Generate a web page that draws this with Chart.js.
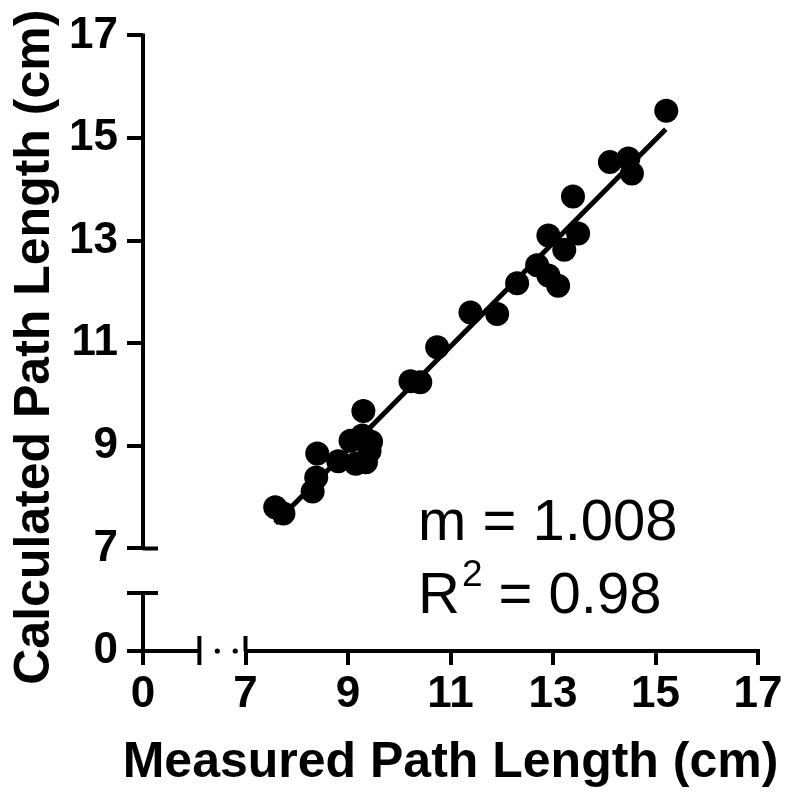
<!DOCTYPE html>
<html>
<head>
<meta charset="utf-8">
<script src="https://cdn.jsdelivr.net/npm/chart.js@4.4.0/dist/chart.umd.min.js"></script>
<style>
  html, body { margin: 0; padding: 0; background: #fff; }
</style>
</head>
<body>
<canvas id="myChart" width="786" height="797"></canvas>
<script>
// values (cm)
const measured = [7.58, 7.74, 8.31, 8.38, 8.40, 8.81, 9.05, 9.15, 9.30, 9.28, 9.35, 9.42, 9.45,
                  10.22, 10.41, 10.74, 11.39, 11.91, 12.30, 12.69, 12.91, 12.91, 13.10, 13.22,
                  13.49, 13.39, 14.11, 14.47, 14.54, 15.21];
const calculated = [7.80, 7.68, 8.11, 8.38, 8.85, 8.70, 9.10, 8.65, 9.68, 9.20, 8.68, 8.90, 9.08,
                    10.26, 10.24, 10.92, 11.60, 11.57, 12.17, 12.52, 13.10, 12.32, 12.12, 12.82,
                    13.14, 13.86, 14.53, 14.60, 14.31, 15.53];
const fitX = [7.58, 15.2];
const fitY = [7.49, 15.17];
const tickValues = [0, 7, 9, 11, 13, 15, 17];
const xTitle = 'Measured Path Length (cm)';
const yTitle = 'Calculated Path Length (cm)';
const slopeText = 'm = 1.008';
const r2Text = '0.98';

// axis is broken between 0 and 7: 7 sits 2 units from 0
function toAxis(v) { return v >= 7 ? v - 5 : v * 2 / 7; }
function fromAxis(d) { return d >= 2 ? d + 5 : d * 7 / 2; }

const family = '"Liberation Sans", Arial, sans-serif';
const tickFont = { family: family, size: 44, weight: 'bold' };

function setTicks(scale) {
  scale.ticks = tickValues.map(v => ({ value: toAxis(v) }));
}

const brokenAxes = {
  id: 'brokenAxes',
  afterDraw(chart) {
    const ctx = chart.ctx;
    const xs = chart.scales.x, ys = chart.scales.y;
    const ax = xs.getPixelForValue(0);
    const ay = ys.getPixelForValue(0);
    ctx.save();
    ctx.strokeStyle = '#000';
    ctx.fillStyle = '#000';
    ctx.lineWidth = 4;
    ctx.lineCap = 'butt';
    ctx.beginPath();
    // y axis, low piece and high piece
    const yLowEnd = ys.getPixelForValue(1.13);
    ctx.moveTo(ax, ay + 2); ctx.lineTo(ax, yLowEnd);
    ctx.moveTo(ax - 16, yLowEnd); ctx.lineTo(ax + 15, yLowEnd);
    const yHigh = ys.getPixelForValue(2);
    ctx.moveTo(ax, yHigh); ctx.lineTo(ax, ys.getPixelForValue(12) - 2);
    ctx.moveTo(ax, yHigh); ctx.lineTo(ax + 15, yHigh);
    // x axis, low piece and high piece
    const xLowEnd = xs.getPixelForValue(1.1);
    ctx.moveTo(ax - 2, ay); ctx.lineTo(xLowEnd, ay);
    ctx.moveTo(xLowEnd, ay - 15); ctx.lineTo(xLowEnd, ay + 14);
    const xHigh = xs.getPixelForValue(2);
    ctx.moveTo(xHigh, ay); ctx.lineTo(xs.getPixelForValue(12) + 2, ay);
    ctx.moveTo(xHigh, ay - 15); ctx.lineTo(xHigh, ay);
    ctx.stroke();
    // dots in the x break
    [1.45, 1.8].forEach(d => {
      ctx.beginPath();
      ctx.arc(xs.getPixelForValue(d), ay, 2.6, 0, Math.PI * 2);
      ctx.fill();
    });

    // axis titles (drawn here so they are not squeezed to the scale width)
    ctx.font = 'bold 50px ' + family;
    ctx.textAlign = 'center';
    ctx.textBaseline = 'alphabetic';
    ctx.fillText(xTitle, (xs.left + xs.right) / 2, 777);
    ctx.save();
    ctx.translate(49, (ys.top + ys.bottom) / 2 + 4);
    ctx.rotate(-Math.PI / 2);
    ctx.fillText(yTitle, 0, 0);
    ctx.restore();

    // fit statistics
    ctx.textAlign = 'left';
    const big = '58px ' + family;
    ctx.font = big;
    ctx.fillText(slopeText, 418, 540);
    let x = 418;
    ctx.fillText('R', x, 613);
    x += ctx.measureText('R').width + 2;
    ctx.font = '37px ' + family;
    ctx.fillText('2', x, 586);
    x += ctx.measureText('2').width;
    ctx.font = big;
    ctx.fillText(' = ' + r2Text, x, 613);
    ctx.restore();
  }
};

const ctx = document.getElementById('myChart');
const chart = new Chart(ctx, {
  data: {
    datasets: [{
      type: 'scatter',
      data: measured.map((m, i) => ({ x: toAxis(m), y: toAxis(calculated[i]) })),
      backgroundColor: '#000',
      borderWidth: 0,
      pointRadius: 12,
      pointHoverRadius: 12,
      order: 0
    }, {
      type: 'line',
      data: fitX.map((m, i) => ({ x: toAxis(m), y: toAxis(fitY[i]) })),
      borderColor: '#000',
      borderWidth: 5,
      pointRadius: 0,
      fill: false,
      order: 1
    }]
  },
  options: {
    responsive: false,
    animation: false,
    layout: { padding: { top: 34, right: 28, left: 0, bottom: 0 } },
    plugins: { legend: { display: false }, tooltip: { enabled: false } },
    scales: {
      x: {
        type: 'linear',
        position: 'bottom',
        min: 0, max: 12,
        afterBuildTicks: setTicks,
        afterFit(scale) { scale.height = 146; },
        border: { display: false },
        grid: { drawOnChartArea: false, drawTicks: true, tickLength: 14, lineWidth: 4, color: '#000' },
        ticks: {
          color: '#000', font: tickFont, padding: 3, maxRotation: 0, autoSkip: false,
          callback: v => String(Math.round(fromAxis(v)))
        }
      },
      y: {
        type: 'linear',
        position: 'left',
        min: 0, max: 12,
        afterBuildTicks: setTicks,
        afterFit(scale) { scale.width = 143; },
        border: { display: false },
        grid: { drawOnChartArea: false, drawTicks: true, tickLength: 16, lineWidth: 4, color: '#000' },
        ticks: {
          color: '#000', font: tickFont, padding: 9, autoSkip: false,
          callback: v => String(Math.round(fromAxis(v)))
        }
      }
    }
  },
  plugins: [brokenAxes]
});
</script>
</body>
</html>
